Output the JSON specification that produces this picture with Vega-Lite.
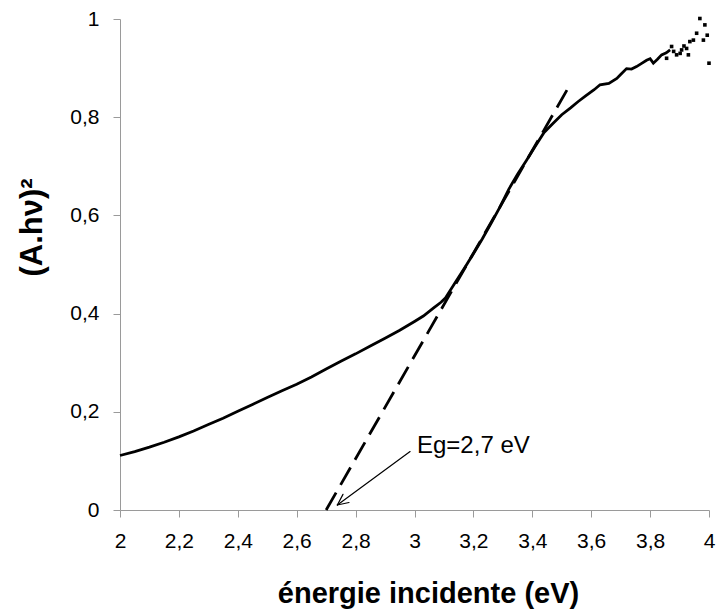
{
  "$schema": "https://vega.github.io/schema/vega-lite/v6.json",
  "autosize": "none",
  "width": 589,
  "height": 491,
  "padding": {"left": 120, "top": 19, "right": 9, "bottom": 99},
  "background": "white",
  "config": {
    "view": {"stroke": null},
    "font": "Liberation Sans",
    "axis": {
      "grid": false,
      "domainColor": "#9a9a9a",
      "tickColor": "#9a9a9a",
      "domainWidth": 1,
      "tickWidth": 1,
      "tickSize": 7,
      "labelColor": "black",
      "labelFont": "Liberation Sans",
      "labelFontSize": 21,
      "titleColor": "black",
      "titleFont": "Liberation Sans",
      "titleFontWeight": "bold",
      "labelFlush": false,
      "labelOverlap": false
    }
  },
  "datasets": {
    "curve": [
      {"x": 2.0, "y": 0.111}, {"x": 2.05, "y": 0.119}, {"x": 2.1, "y": 0.128}, {"x": 2.15, "y": 0.138},
      {"x": 2.2, "y": 0.149}, {"x": 2.25, "y": 0.161}, {"x": 2.3, "y": 0.174}, {"x": 2.35, "y": 0.187},
      {"x": 2.4, "y": 0.201}, {"x": 2.45, "y": 0.215}, {"x": 2.5, "y": 0.229}, {"x": 2.55, "y": 0.243},
      {"x": 2.6, "y": 0.256}, {"x": 2.65, "y": 0.271}, {"x": 2.7, "y": 0.287}, {"x": 2.75, "y": 0.303},
      {"x": 2.8, "y": 0.318}, {"x": 2.85, "y": 0.334}, {"x": 2.9, "y": 0.350}, {"x": 2.95, "y": 0.366},
      {"x": 3.0, "y": 0.384}, {"x": 3.03, "y": 0.395}, {"x": 3.064, "y": 0.411}, {"x": 3.09, "y": 0.423},
      {"x": 3.104, "y": 0.431}, {"x": 3.14, "y": 0.465}, {"x": 3.17, "y": 0.493}, {"x": 3.2, "y": 0.522},
      {"x": 3.23, "y": 0.552}, {"x": 3.26, "y": 0.584}, {"x": 3.29, "y": 0.617}, {"x": 3.32, "y": 0.653},
      {"x": 3.35, "y": 0.684}, {"x": 3.38, "y": 0.712}, {"x": 3.41, "y": 0.741}, {"x": 3.44, "y": 0.769},
      {"x": 3.47, "y": 0.787}, {"x": 3.5, "y": 0.805}, {"x": 3.53, "y": 0.819}, {"x": 3.556, "y": 0.832},
      {"x": 3.58, "y": 0.843}, {"x": 3.61, "y": 0.856}, {"x": 3.63, "y": 0.866}, {"x": 3.66, "y": 0.869},
      {"x": 3.687, "y": 0.879}, {"x": 3.70, "y": 0.887}, {"x": 3.72, "y": 0.899}, {"x": 3.737, "y": 0.898},
      {"x": 3.754, "y": 0.903}, {"x": 3.77, "y": 0.909}, {"x": 3.788, "y": 0.916}, {"x": 3.80, "y": 0.919},
      {"x": 3.811, "y": 0.910}, {"x": 3.825, "y": 0.918}, {"x": 3.839, "y": 0.927}, {"x": 3.855, "y": 0.931},
      {"x": 3.868, "y": 0.937}
    ],
    "tail": [
      {"x": 3.873, "y": 0.944}, {"x": 3.856, "y": 0.920}, {"x": 3.890, "y": 0.927}, {"x": 3.907, "y": 0.937},
      {"x": 3.924, "y": 0.940}, {"x": 3.930, "y": 0.927}, {"x": 3.902, "y": 0.930}, {"x": 3.935, "y": 0.954},
      {"x": 3.947, "y": 0.957}, {"x": 3.958, "y": 0.971}, {"x": 3.969, "y": 1.001}, {"x": 3.981, "y": 0.957},
      {"x": 3.986, "y": 0.988}, {"x": 3.994, "y": 0.967}, {"x": 4.0, "y": 0.910}, {"x": 3.880, "y": 0.934},
      {"x": 3.915, "y": 0.945}
    ],
    "tangent": [
      {"x": 2.7, "y": 0.0}, {"x": 3.528, "y": 0.866}
    ],
    "arrow": [
      {"x": 2.985, "y": 0.119, "x2": 2.738, "y2": 0.0102},
      {"x": 2.738, "y": 0.0102, "x2": 2.7776, "y2": 0.0153},
      {"x": 2.738, "y": 0.0102, "x2": 2.7572, "y2": 0.0318}
    ],
    "label": [
      {"x": 3.0085, "y": 0.116, "text": "Eg=2,7 eV"}
    ]
  },
  "encoding": {
    "x": {
      "field": "x", "type": "quantitative",
      "scale": {"domain": [2, 4], "nice": false, "zero": false},
      "axis": {
        "values": [2, 2.2, 2.4, 2.6, 2.8, 3, 3.2, 3.4, 3.6, 3.8, 4],
        "labelExpr": "replace(format(datum.value, '~g'), '.', ',')",
        "labelPadding": 13,
        "title": "énergie incidente (eV)",
        "titleFontSize": 29,
        "titleX": 308,
        "titleY": 92,
        "titleAlign": "center",
        "titleBaseline": "alphabetic"
      }
    },
    "y": {
      "field": "y", "type": "quantitative",
      "scale": {"domain": [0, 1], "nice": false},
      "axis": {
        "values": [0, 0.2, 0.4, 0.6, 0.8, 1],
        "labelExpr": "replace(format(datum.value, '~g'), '.', ',')",
        "labelPadding": 14,
        "title": "(A.hν)²",
        "titleFontSize": 31,
        "titleAngle": 270,
        "titleX": -79,
        "titleY": 208,
        "titleAlign": "center",
        "titleBaseline": "alphabetic"
      }
    }
  },
  "layer": [
    {
      "data": {"name": "curve"},
      "mark": {"type": "line", "color": "black", "strokeWidth": 2.8}
    },
    {
      "data": {"name": "tail"},
      "mark": {"type": "point", "shape": "square", "filled": true, "color": "black", "size": 13, "opacity": 1}
    },
    {
      "data": {"name": "tangent"},
      "mark": {"type": "line", "color": "black", "strokeWidth": 2.8, "strokeDash": [20, 9]}
    },
    {
      "data": {"name": "arrow"},
      "mark": {"type": "rule", "color": "black", "strokeWidth": 1.2, "strokeCap": "round"},
      "encoding": {
        "x2": {"field": "x2"},
        "y2": {"field": "y2"}
      }
    },
    {
      "data": {"name": "label"},
      "mark": {"type": "text", "align": "left", "baseline": "alphabetic", "fontSize": 24, "font": "Liberation Sans", "color": "black"},
      "encoding": {"text": {"field": "text"}}
    }
  ]
}
